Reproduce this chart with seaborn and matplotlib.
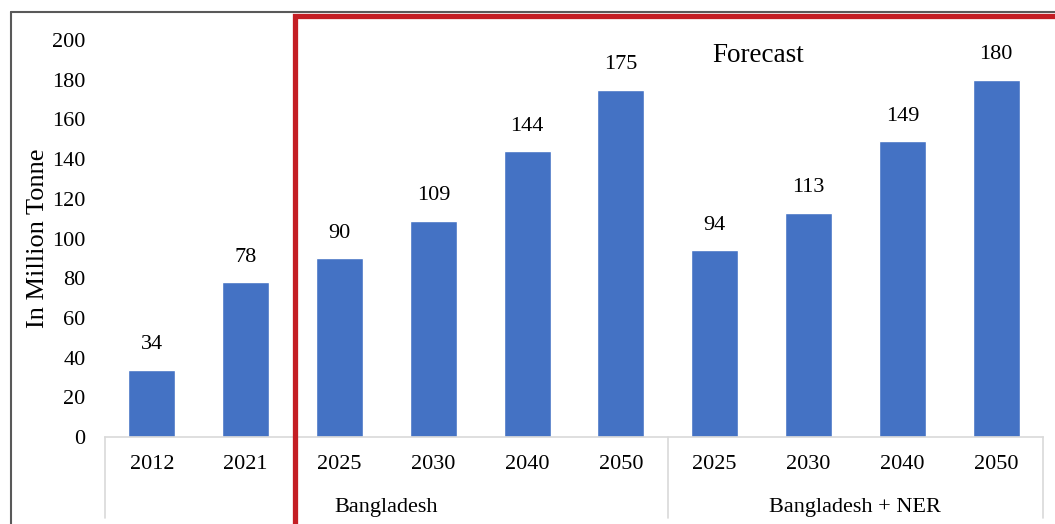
import matplotlib
matplotlib.use("Agg")
import matplotlib.pyplot as plt
import seaborn as sns
import pandas as pd
from matplotlib.lines import Line2D

# data
years = ["2012", "2021", "2025", "2030", "2040", "2050", "2025", "2030", "2040", "2050"]
groups = ["Bangladesh"] * 6 + ["Bangladesh + NER"] * 4
values = [34, 78, 90, 109, 144, 175, 94, 113, 149, 180]
group_labels = ["Bangladesh", "Bangladesh + NER"]

df = pd.DataFrame({"slot": [f"{g}|{y}" for g, y in zip(groups, years)],
                   "value": values})

sns.set_style("white")
plt.rcParams["font.family"] = ["Liberation Serif", "DejaVu Serif"]
plt.rcParams["text.color"] = "black"
plt.rcParams["axes.labelcolor"] = "black"
plt.rcParams["xtick.color"] = "black"
plt.rcParams["ytick.color"] = "black"

W, H = 1055, 524
fig = plt.figure(figsize=(W / 100, H / 100), dpi=100)
ax = fig.add_axes([105 / W, (H - 437) / H, (1043 - 105) / W, 397 / H])

sns.barplot(data=df, x="slot", y="value", color="#4472C4", saturation=1,
            width=0.5, ax=ax)
ax.bar_label(ax.containers[0], fmt="%d", padding=11, fontsize=16)

ax.set_ylim(0, 200)
ax.set_xlim(-0.5, len(values) - 0.5)
ax.set_yticks(range(0, 201, 20))
ax.set_xticks(range(len(values)))
ax.set_xticklabels(years)
ax.tick_params(axis="both", length=0, labelsize=16)
ax.tick_params(axis="y", pad=14)
ax.tick_params(axis="x", pad=13)
ax.set_xlabel("")
ax.set_ylabel("In Million Tonne", fontsize=19, labelpad=2)

for s in ["left", "right", "top"]:
    ax.spines[s].set_visible(False)
ax.spines["bottom"].set_color("#d9d9d9")
ax.spines["bottom"].set_linewidth(1.2)

# category table lines and group labels
tr = ax.get_xaxis_transform()
for xb in [-0.5, 5.5, 9.5]:
    ax.plot([xb, xb], [0, -0.205], transform=tr, color="#d9d9d9", lw=1.2,
            clip_on=False)
ax.text(2.5, -0.178, group_labels[0], transform=tr, ha="center", va="center",
        fontsize=16)
ax.text(7.5, -0.178, group_labels[1], transform=tr, ha="center", va="center",
        fontsize=16)

ax.text(758 / W, 1 - 55 / H, "Forecast", transform=fig.transFigure,
        ha="center", va="center", fontsize=19.5)

# outer border and forecast frame
fig.add_artist(Line2D([11 / W, 1], [1 - 12 / H, 1 - 12 / H], color="#595959",
                      lw=1.5, transform=fig.transFigure))
fig.add_artist(Line2D([11 / W, 11 / W], [0, 1 - 12 / H], color="#595959",
                      lw=1.5, transform=fig.transFigure))
red = "#c41e24"
fig.add_artist(Line2D([295 / W, 295 / W, 1], [0, 1 - 16 / H, 1 - 16 / H],
                      color=red, lw=3.8, transform=fig.transFigure,
                      solid_joinstyle="miter"))

fig.savefig("out.png", dpi=100)
